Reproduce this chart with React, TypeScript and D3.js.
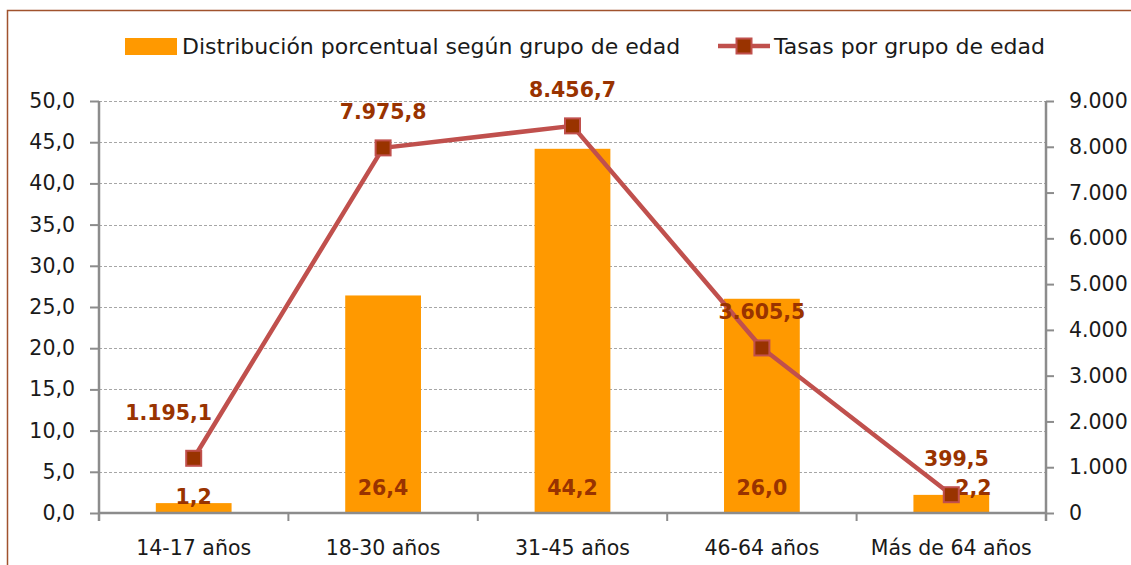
import React, { useEffect, useRef } from 'react';
import * as d3 from 'd3';

// data
const categories = ['14-17 años', '18-30 años', '31-45 años', '46-64 años', 'Más de 64 años'];
const distribucion = [1.2, 26.4, 44.2, 26.0, 2.2]; // % per age group (bars, left axis)
const tasas = [1195.1, 7975.8, 8456.7, 3605.5, 399.5]; // rates per age group (line, right axis)
const leftTicks = [0, 5, 10, 15, 20, 25, 30, 35, 40, 45, 50];
const rightTicks = [0, 1000, 2000, 3000, 4000, 5000, 6000, 7000, 8000, 9000];
const legendLabels = ['Distribución porcentual según grupo de edad', 'Tasas por grupo de edad'];

const esLocale = d3.formatLocale({ decimal: ',', thousands: '.', grouping: [3], currency: ['', '€'] });
const fmt1 = esLocale.format(',.1f');
const fmt0 = esLocale.format(',.0f');

const App = () => {
  const svgRef = useRef<SVGSVGElement>(null);

  useEffect(() => {
    document.body.style.margin = '0';
    const svg = d3.select(svgRef.current);
    svg.selectAll('*').remove();

    const width = 1131;
    const height = 565;
    const margin = { top: 101, right: 85, bottom: 52, left: 99 };
    const font = '"DejaVu Sans", Verdana, sans-serif';
    const fontSize = '20.5px';
    const textColor = '#1a1a1a';
    const labelColor = '#993300';
    const lineColor = '#C0504D';
    const barColor = '#FF9900';
    const axisColor = '#8C8C8C';

    svg.append('rect').attr('width', width).attr('height', height).attr('fill', '#fff');

    // outer frame (only top and left edge visible in the crop)
    svg.append('path')
      .attr('d', `M7.5,${height} V10.5 H${width}`)
      .attr('fill', 'none')
      .attr('stroke', '#A0522D')
      .attr('stroke-width', 1.5);

    const x = d3.scaleBand<string>()
      .domain(categories)
      .range([margin.left, width - margin.right])
      .paddingInner(0.6)
      .paddingOuter(0.3);

    const yLeft = d3.scaleLinear().domain([0, 50]).range([height - margin.bottom, margin.top]);
    const yRight = d3.scaleLinear().domain([0, 9000]).range([height - margin.bottom, margin.top]);

    const y0 = yLeft(0);
    const xL = margin.left;
    const xR = width - margin.right;

    // gridlines
    svg.append('g')
      .selectAll('line')
      .data(leftTicks.filter(d => d > 0))
      .join('line')
      .attr('x1', xL)
      .attr('x2', xR)
      .attr('y1', d => Math.round(yLeft(d)) + 0.5)
      .attr('y2', d => Math.round(yLeft(d)) + 0.5)
      .attr('stroke', '#A6A6A6')
      .attr('stroke-width', 1)
      .attr('stroke-dasharray', '3,2');

    // bars
    svg.append('g')
      .selectAll('rect')
      .data(distribucion)
      .join('rect')
      .attr('x', (d, i) => x(categories[i])!)
      .attr('width', x.bandwidth())
      .attr('y', d => yLeft(d))
      .attr('height', d => y0 - yLeft(d))
      .attr('fill', barColor);

    // left axis
    const leftAxis = svg.append('g')
      .attr('transform', `translate(${xL},0)`)
      .call(d3.axisLeft(yLeft).tickValues(leftTicks).tickFormat(d => fmt1(d as number)).tickSize(9).tickPadding(15));
    // right axis
    const rightAxis = svg.append('g')
      .attr('transform', `translate(${xR},0)`)
      .call(d3.axisRight(yRight).tickValues(rightTicks).tickFormat(d => fmt0(d as number)).tickSize(8).tickPadding(15));

    [leftAxis, rightAxis].forEach(g => {
      g.select('.domain').remove();
      g.selectAll('line').attr('stroke', axisColor).attr('stroke-width', 2);
      g.selectAll('text')
        .attr('fill', textColor)
        .style('font-family', font)
        .style('font-size', fontSize);
    });
    svg.append('line')
      .attr('x1', xL).attr('x2', xL).attr('y1', margin.top).attr('y2', y0 + 8)
      .attr('stroke', axisColor).attr('stroke-width', 2.5);
    svg.append('line')
      .attr('x1', xR).attr('x2', xR).attr('y1', margin.top).attr('y2', y0 + 8)
      .attr('stroke', axisColor).attr('stroke-width', 2.5);

    // category axis
    svg.append('line')
      .attr('x1', xL).attr('x2', xR).attr('y1', y0).attr('y2', y0)
      .attr('stroke', axisColor).attr('stroke-width', 2.5);
    const step = x.step();
    svg.append('g')
      .selectAll('line')
      .data(d3.range(categories.length + 1))
      .join('line')
      .attr('x1', i => xL + i * step)
      .attr('x2', i => xL + i * step)
      .attr('y1', y0)
      .attr('y2', y0 + 8)
      .attr('stroke', axisColor)
      .attr('stroke-width', 2);
    svg.append('g')
      .selectAll('text')
      .data(categories)
      .join('text')
      .attr('x', d => x(d)! + x.bandwidth() / 2)
      .attr('y', y0 + 42)
      .attr('text-anchor', 'middle')
      .attr('fill', textColor)
      .style('font-family', font)
      .style('font-size', fontSize)
      .text(d => d);

    // bar labels (inside base)
    svg.append('g')
      .selectAll('text')
      .data(distribucion)
      .join('text')
      .attr('x', (d, i) => x(categories[i])! + x.bandwidth() / 2 + (i === categories.length - 1 ? 22 : 0))
      .attr('y', (d, i) => (i === 0 ? y0 - 9 : y0 - 18))
      .attr('text-anchor', 'middle')
      .attr('fill', labelColor)
      .style('font-family', font)
      .style('font-weight', 'bold')
      .style('font-size', fontSize)
      .text(d => fmt1(d));

    // line
    const cx = (i: number) => x(categories[i])! + x.bandwidth() / 2;
    const line = d3.line<number>()
      .x((d, i) => cx(i))
      .y(d => yRight(d));

    svg.append('path')
      .datum(tasas)
      .attr('fill', 'none')
      .attr('stroke', lineColor)
      .attr('stroke-width', 4.5)
      .attr('stroke-linejoin', 'round')
      .attr('d', line);

    const ms = 15;
    svg.append('g')
      .selectAll('rect')
      .data(tasas)
      .join('rect')
      .attr('x', (d, i) => cx(i) - ms / 2)
      .attr('y', d => yRight(d) - ms / 2)
      .attr('width', ms)
      .attr('height', ms)
      .attr('fill', labelColor)
      .attr('stroke', lineColor)
      .attr('stroke-width', 2);

    // line labels (above)
    svg.append('g')
      .selectAll('text')
      .data(tasas)
      .join('text')
      .attr('x', (d, i) => cx(i) + (i === 0 ? -25 : i === categories.length - 1 ? 5 : 0))
      .attr('y', (d, i) => yRight(d) - (i === 0 ? 38 : 29))
      .attr('text-anchor', 'middle')
      .attr('fill', labelColor)
      .style('font-family', font)
      .style('font-weight', 'bold')
      .style('font-size', fontSize)
      .text(d => fmt1(d));

    // legend
    const legendSize = '22px';
    const legend = svg.append('g');
    legend.append('rect')
      .attr('x', 125).attr('y', 38).attr('width', 52).attr('height', 17)
      .attr('fill', barColor);
    legend.append('text')
      .attr('x', 182).attr('y', 54)
      .attr('fill', textColor)
      .style('font-family', font)
      .style('font-size', legendSize)
      .text(legendLabels[0]);
    legend.append('line')
      .attr('x1', 718).attr('x2', 770).attr('y1', 46).attr('y2', 46)
      .attr('stroke', lineColor).attr('stroke-width', 4.5);
    legend.append('rect')
      .attr('x', 744 - ms / 2).attr('y', 46 - ms / 2).attr('width', ms).attr('height', ms)
      .attr('fill', labelColor).attr('stroke', lineColor).attr('stroke-width', 2);
    legend.append('text')
      .attr('x', 774).attr('y', 54)
      .attr('fill', textColor)
      .style('font-family', font)
      .style('font-size', legendSize)
      .text(legendLabels[1]);
  }, []);

  return <svg ref={svgRef} width={1131} height={565} style={{ display: 'block' }}></svg>;
};

export default App;
